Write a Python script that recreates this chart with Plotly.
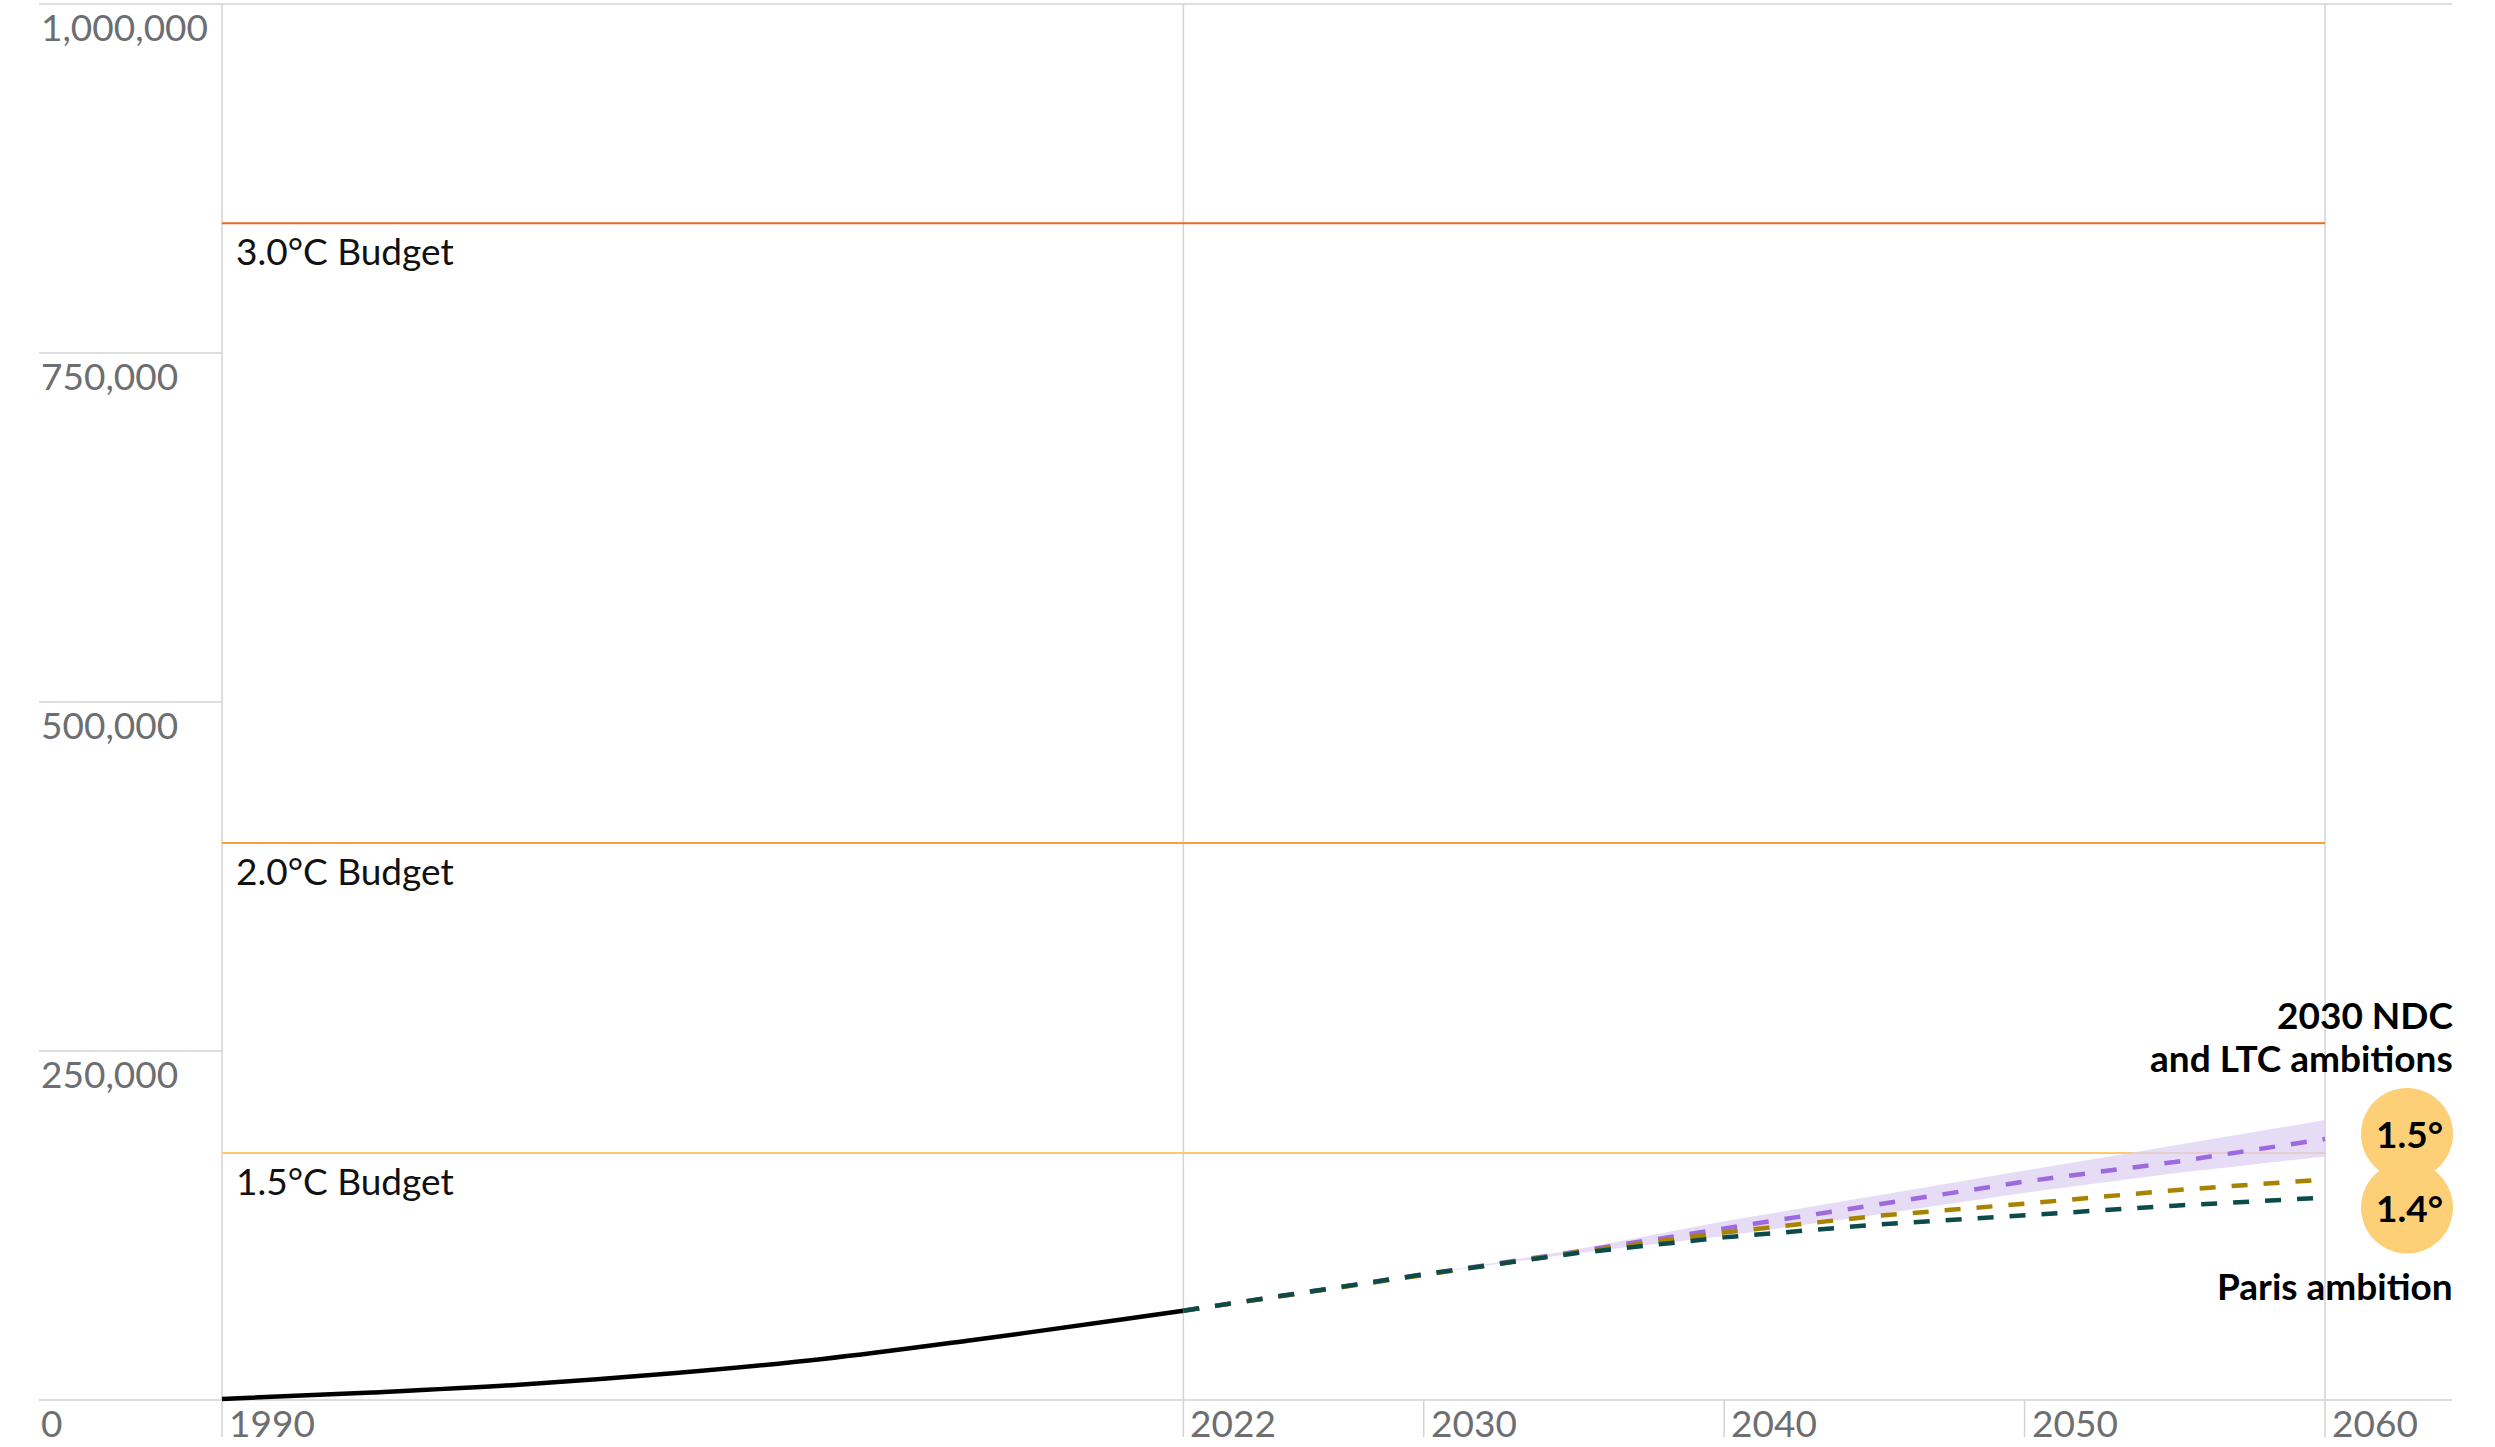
import plotly.graph_objects as go

# ---- data ---------------------------------------------------------------
# cumulative emissions, historical
hist_years = [1990, 1995, 2000, 2005, 2010, 2015, 2020, 2022]
hist_values = [700, 5400, 11100, 19100, 29400, 43000, 57800, 64000]

# projected cumulative emissions
proj_years = [2022, 2025, 2030, 2035, 2040, 2045, 2050, 2055, 2060]
paris_path = [64000, 73500, 90000, 105000, 116500, 125500, 132500, 139200, 145000]
middle_path = [64000, 73500, 90000, 105500, 120000, 131700, 140600, 150300, 158000]
ndc_ltc_path = [64000, 73500, 90000, 106000, 123000, 139600, 156500, 170500, 187000]

band_years = [2030, 2035, 2040, 2045, 2050, 2055, 2060]
ndc_ltc_upper = [90000, 107500, 128000, 146000, 164500, 182500, 200500]
ndc_ltc_lower = [90000, 105000, 117500, 132500, 148500, 162500, 174500]

# carbon budgets
budget_labels = ["3.0°C Budget", "2.0°C Budget", "1.5°C Budget"]
budget_values = [843000, 399000, 177000]
budget_colors = ["#f26522", "#f9a23a", "#fcc870"]

# axes
y_ticks = [0, 250000, 500000, 750000, 1000000]
y_tick_labels = ["0", "250,000", "500,000", "750,000", "1,000,000"]
x_ticks = [1990, 2022, 2030, 2040, 2050, 2060]
x_tick_labels = ["1990", "2022", "2030", "2040", "2050", "2060"]
x_gridlines = [1990, 2022, 2060]

badge_labels = ["1.5°", "1.4°"]

# ---- scales -------------------------------------------------------------
W, H = 2495, 1447
X0_YEAR, X0_PX, X1_YEAR, X1_PX = 1990, 222, 2060, 2325
Y0_PX, Y1_VAL, Y1_PX = 1400, 1000000, 4
px_per_year = (X1_PX - X0_PX) / (X1_YEAR - X0_YEAR)
px_per_unit = (Y0_PX - Y1_PX) / Y1_VAL


def xd(px):
    return X0_YEAR + (px - X0_PX) / px_per_year


def yd(px):
    return (Y0_PX - px) / px_per_unit


FONT = "Lato, 'Open Sans', sans-serif"
GRID = "#d3d3d3"
TICK_TXT = "#6d6e71"
FS = 37

fig = go.Figure()

# purple uncertainty band
fig.add_trace(go.Scatter(x=band_years, y=ndc_ltc_lower, mode="lines",
                         line=dict(width=0), hoverinfo="skip"))
fig.add_trace(go.Scatter(x=band_years, y=ndc_ltc_upper, mode="lines",
                         line=dict(width=0), fill="tonexty",
                         fillcolor="rgba(222,208,243,0.75)", hoverinfo="skip"))

shapes = []
left_px, right_px = 39, 2452
tick_bottom = yd(1437)

# horizontal grid / tick lines on the left
for v in y_ticks:
    x_end = xd(right_px) if v in (0, Y1_VAL) else X0_YEAR
    shapes.append(dict(type="line", xref="x", yref="y", x0=xd(left_px), x1=x_end,
                       y0=v, y1=v, line=dict(color=GRID, width=1.5), layer="below"))

# vertical year lines
for yr in x_ticks:
    top = Y1_VAL if yr in x_gridlines else 0
    shapes.append(dict(type="line", xref="x", yref="y", x0=yr, x1=yr,
                       y0=top, y1=tick_bottom, line=dict(color=GRID, width=1.5),
                       layer="below"))

# budget lines
for v, c in zip(budget_values, budget_colors):
    shapes.append(dict(type="line", xref="x", yref="y", x0=1990, x1=2060,
                       y0=v, y1=v, line=dict(color=c, width=2), layer="below"))

# historical line
fig.add_trace(go.Scatter(x=hist_years, y=hist_values, mode="lines",
                         line=dict(color="#000000", width=4.5, shape="spline"),
                         hoverinfo="skip"))

DASH = "16px,16px"
fig.add_trace(go.Scatter(x=proj_years, y=ndc_ltc_path, mode="lines",
                         line=dict(color="#9c6ade", width=4.5, dash=DASH), hoverinfo="skip"))
fig.add_trace(go.Scatter(x=proj_years, y=middle_path, mode="lines",
                         line=dict(color="#a88300", width=4.5, dash=DASH), hoverinfo="skip"))
fig.add_trace(go.Scatter(x=proj_years, y=paris_path, mode="lines",
                         line=dict(color="#0b4b49", width=4.5, dash=DASH), hoverinfo="skip"))

# badges anchored to the line ends
badge_anchor = [(2060, ndc_ltc_path[-1], 82, 5), (2060, paris_path[-1], 82, -10)]
R = 46
annotations = []
for (ax, ay, dx, dy), lab in zip(badge_anchor, badge_labels):
    shapes.append(dict(type="circle", xref="x", yref="y", xsizemode="pixel",
                       ysizemode="pixel", xanchor=ax, yanchor=ay,
                       x0=dx - R, x1=dx + R, y0=dy - R, y1=dy + R,
                       fillcolor="#fdd078", line=dict(width=0), layer="above"))
for (ax, ay, dx, dy), lab in zip(badge_anchor, badge_labels):
    annotations.append(dict(x=ax, y=ay, xref="x", yref="y", xshift=dx + 2, yshift=dy,
                            text=f"<b>{lab}</b>", showarrow=False,
                            font=dict(family=FONT, size=FS, color="#000000")))

# tick labels
for v, t in zip(y_ticks, y_tick_labels):
    annotations.append(dict(x=xd(left_px), y=v, xref="x", yref="y", text=t,
                            xanchor="left", yanchor="top", yshift=2, showarrow=False,
                            font=dict(family=FONT, size=FS, color=TICK_TXT)))
for yr, t in zip(x_ticks, x_tick_labels):
    annotations.append(dict(x=yr, y=0, xref="x", yref="y", text=t,
                            xanchor="left", yanchor="top", xshift=5, yshift=2,
                            showarrow=False,
                            font=dict(family=FONT, size=FS, color=TICK_TXT)))

# budget labels
for v, t in zip(budget_values, budget_labels):
    annotations.append(dict(x=1990, y=v, xref="x", yref="y", text=t,
                            xanchor="left", yanchor="top", xshift=12, yshift=-3,
                            showarrow=False,
                            font=dict(family=FONT, size=FS, color="#111111")))

# series captions
cap_x = xd(2455)
for txt, py in [("2030 NDC", 1014), ("and LTC ambitions", 1057), ("Paris ambition", 1285)]:
    annotations.append(dict(x=cap_x, y=yd(py), xref="x", yref="y", text=f"<b>{txt}</b>",
                            xanchor="right", yanchor="middle", showarrow=False,
                            font=dict(family=FONT, size=FS, color="#000000")))

fig.update_layout(
    width=W, height=H,
    margin=dict(l=0, r=0, t=0, b=0),
    paper_bgcolor="white", plot_bgcolor="white",
    showlegend=False,
    xaxis=dict(range=[xd(0), xd(W)], visible=False, fixedrange=True),
    yaxis=dict(range=[yd(H), yd(0)], visible=False, fixedrange=True),
    shapes=shapes, annotations=annotations,
)

fig.write_html("out.html")
